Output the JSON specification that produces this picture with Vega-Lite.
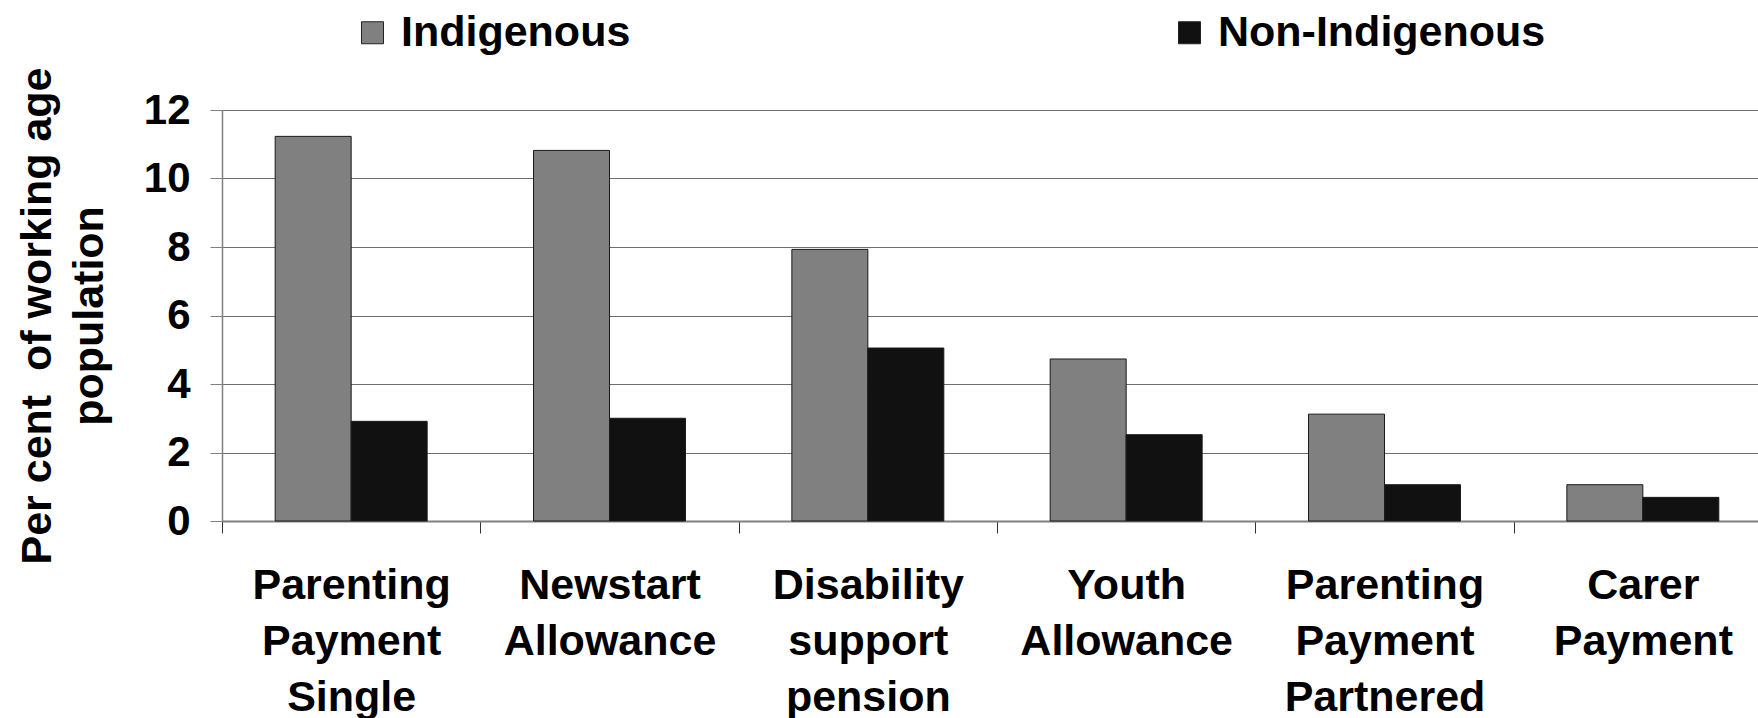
{
  "$schema": "https://vega.github.io/schema/vega-lite/v6.json",
  "width": 1536,
  "height": 411,
  "autosize": "none",
  "padding": {"left": 222, "top": 110, "right": 0, "bottom": 197},
  "background": "white",
  "config": {"view": {"stroke": null}, "font": "Liberation Sans"},
  "data": {
    "values": [
      {"category": "Parenting Payment Single", "group": "Indigenous", "value": 11.23},
      {"category": "Parenting Payment Single", "group": "Non-Indigenous", "value": 2.91},
      {"category": "Newstart Allowance", "group": "Indigenous", "value": 10.82},
      {"category": "Newstart Allowance", "group": "Non-Indigenous", "value": 3.0},
      {"category": "Disability support pension", "group": "Indigenous", "value": 7.93},
      {"category": "Disability support pension", "group": "Non-Indigenous", "value": 5.05},
      {"category": "Youth Allowance", "group": "Indigenous", "value": 4.73},
      {"category": "Youth Allowance", "group": "Non-Indigenous", "value": 2.52},
      {"category": "Parenting Payment Partnered", "group": "Indigenous", "value": 3.12},
      {"category": "Parenting Payment Partnered", "group": "Non-Indigenous", "value": 1.06},
      {"category": "Carer Payment", "group": "Indigenous", "value": 1.06},
      {"category": "Carer Payment", "group": "Non-Indigenous", "value": 0.69}
    ]
  },
  "mark": {"type": "bar", "stroke": "#1a1a1a", "strokeWidth": 1},
  "encoding": {
    "x": {
      "field": "category",
      "type": "nominal",
      "sort": ["Parenting Payment Single", "Newstart Allowance", "Disability support pension", "Youth Allowance", "Parenting Payment Partnered", "Carer Payment"],
      "scale": {"range": [0, 1550], "paddingInner": 0, "paddingOuter": 0},
      "axis": {
        "title": null,
        "labelAngle": 0,
        "labelExpr": "split(datum.label, ' ')",
        "labelFont": "Liberation Sans",
        "labelFontSize": 43,
        "labelFontWeight": "bold",
        "labelColor": "black",
        "labelLineHeight": 56,
        "labelPadding": 31,
        "labelBaseline": "top",
        "labelLimit": 0,
        "labelOverlap": false,
        "labelBound": false,
        "tickBand": "extent",
        "tickSize": 12,
        "tickColor": "#333333",
        "domainColor": "#808080",
        "domainWidth": 2,
        "grid": false
      }
    },
    "xOffset": {
      "field": "group",
      "type": "nominal",
      "sort": ["Indigenous", "Non-Indigenous"],
      "scale": {"paddingInner": 0, "paddingOuter": 0.7}
    },
    "y": {
      "field": "value",
      "type": "quantitative",
      "scale": {"domain": [0, 12], "nice": false},
      "axis": {
        "title": ["Per cent \u00a0of working age", "population"],
        "values": [0, 2, 4, 6, 8, 10, 12],
        "labelFont": "Liberation Sans",
        "labelFontSize": 42,
        "labelFontWeight": "bold",
        "labelColor": "black",
        "labelPadding": 20,
        "tickSize": 12,
        "tickColor": "#808080",
        "domainColor": "#808080",
        "domainWidth": 1.5,
        "grid": true,
        "gridColor": "#6e6e6e",
        "gridWidth": 1.2,
        "titleFont": "Liberation Sans",
        "titleFontSize": 43,
        "titleFontWeight": "bold",
        "titleColor": "black",
        "titleLineHeight": 52,
        "titlePadding": 32
      }
    },
    "color": {
      "field": "group",
      "type": "nominal",
      "scale": {"domain": ["Indigenous", "Non-Indigenous"], "range": ["#808080", "#111111"]},
      "legend": {
        "title": null,
        "orient": "none",
        "legendX": 129,
        "legendY": -99,
        "direction": "horizontal",
        "symbolType": "square",
        "symbolSize": 484,
        "symbolStrokeColor": "#222222",
        "symbolStrokeWidth": 1,
        "symbolOpacity": 1,
        "labelFont": "Liberation Sans",
        "labelFontSize": 43,
        "labelFontWeight": "bold",
        "labelColor": "black",
        "labelLimit": 0,
        "labelOffset": 7,
        "columnPadding": 537,
        "padding": 0
      }
    }
  }
}
